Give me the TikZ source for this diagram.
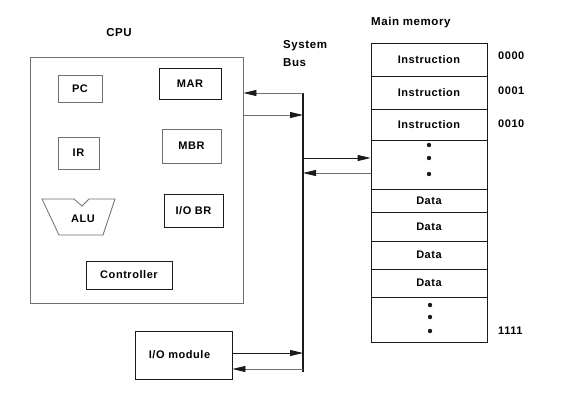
\documentclass[tikz,border=0pt]{standalone}
\usepackage{fontspec}
\setmainfont[LetterSpace=5]{Liberation Sans}
\usepackage{xcolor}
\usetikzlibrary{arrows.meta,calc}
\definecolor{lineg}{HTML}{707070}
\definecolor{linek}{HTML}{1A1A1A}
\tikzset{
  reg/.style={
    draw=lineg,
    line width=0.8pt,
    fill=white,
    inner sep=0pt,
    font=\fontsize{11}{13}\selectfont\bfseries
  },
  dark/.style={draw=linek},
  cell/.style={
    draw=linek,
    line width=0.8pt,
    inner sep=0pt,
    minimum width=116pt,
    font=\fontsize{11}{13}\selectfont\bfseries
  },
  title/.style={font=\fontsize{11.5}{18}\selectfont\bfseries, align=left},
  addr/.style={font=\fontsize{11}{13}\selectfont\bfseries, anchor=west, inner sep=0pt},
  bus/.style={line width=1.3pt, draw=linek},
  edge/.style={line width=0.8pt, -{Triangle[length=13pt, width=6pt, color=linek]}},
  dot/.style={fill=linek}
}
\begin{document}
\begin{tikzpicture}[x=1pt,y=-1pt]
\path[use as bounding box] (0,0) rectangle (577,407);
\fill[white] (0,0) rectangle (577,407);

% CPU
\node[title] (cpulbl) at (119,33) {CPU};
\node[reg, minimum width=213pt, minimum height=246pt] (cpu) at (136.5,180) {};
\node[reg, minimum width=44pt, minimum height=27pt] (pc) at (80,88.5) {PC};
\node[reg, dark, minimum width=62pt, minimum height=31pt] (mar) at (190,83.5) {MAR};
\node[reg, minimum width=41pt, minimum height=32pt] (ir) at (78.5,153) {IR};
\node[reg, minimum width=59pt, minimum height=34pt] (mbr) at (191.5,146) {MBR};
\node[reg, dark, minimum width=59pt, minimum height=33pt] (iobr) at (193.5,210.5) {I/O BR};
\node[reg, dark, minimum width=86pt, minimum height=28pt] (ctrl) at (129,275) {Controller};
\draw[draw=lineg, line width=0.8pt]
  (42,199) -- (74,199) -- (82,206) -- (89,199) -- (115,199)
  -- (103,235) -- (59,235) -- cycle;
\node[reg, draw=none, fill=none] (alu) at (83,219) {ALU};

% I/O module
\node[reg, dark, minimum width=97pt, minimum height=48pt] (iomod) at (183.5,355) {\hspace*{-8pt}I/O module};

% main memory
\node[title, anchor=west, inner sep=0pt] (memlbl) at (371,23) {Main memory};
\node[cell, minimum height=33pt] (m0) at (429,59.5) {Instruction};
\node[cell, minimum height=33pt] (m1) at (429,92.5) {Instruction};
\node[cell, minimum height=31pt] (m2) at (429,124.5) {Instruction};
\node[cell, minimum height=49pt] (m3) at (429,164.5) {};
\node[cell, minimum height=23pt] (m4) at (429,200.5) {Data};
\node[cell, minimum height=29pt] (m5) at (429,226.5) {Data};
\node[cell, minimum height=28pt] (m6) at (429,255) {Data};
\node[cell, minimum height=28pt] (m7) at (429,283) {Data};
\node[cell, minimum height=45pt] (m8) at (429,319.5) {};
\foreach \y in {145,158,174} \fill[dot] (429,\y) circle (2.2pt);
\foreach \y in {305,317,331} \fill[dot] (430,\y) circle (2.2pt);

\node[addr] (a0) at (498,56) {0000};
\node[addr] (a1) at (498,91) {0001};
\node[addr] (a2) at (498,124) {0010};
\node[addr] (a15) at (498,331) {1111};

% system bus
\node[title, anchor=north west, inner sep=0pt] (buslbl) at (283,40) {System\\Bus};
\coordinate (bustop) at (303,93);
\coordinate (b2) at (303,115);
\coordinate (b3) at (303,158);
\coordinate (b4) at (303,173);
\coordinate (b5) at (303,353);
\coordinate (b6) at (303,369);
\coordinate (busbot) at (303,372);
\draw[bus] (bustop) -- (busbot);

\draw[edge, draw=lineg] (bustop) -- (bustop -| cpu.east);
\draw[edge, draw=lineg] (b2 -| cpu.east) -- (b2);
\draw[edge, draw=linek] (b3) -- (b3 -| m3.west);
\draw[edge, draw=lineg] (b4 -| m3.west) -- (b4);
\draw[edge, draw=linek] (b5 -| iomod.east) -- (b5);
\draw[edge, draw=lineg] (b6) -- (b6 -| iomod.east);
\end{tikzpicture}
\end{document}
